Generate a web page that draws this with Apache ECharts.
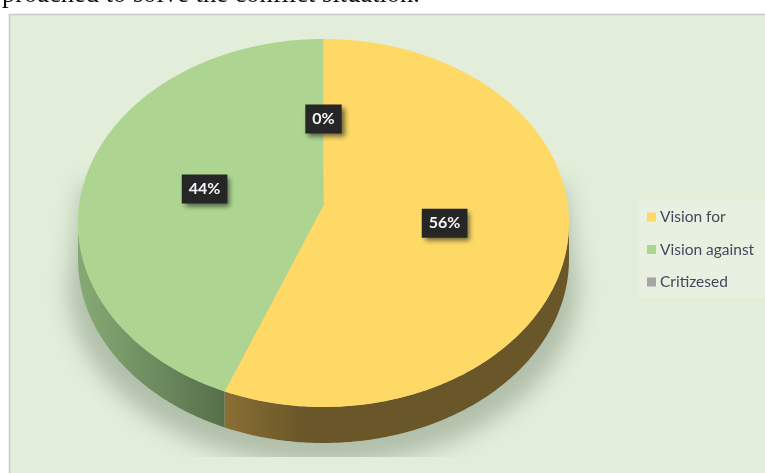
<!DOCTYPE html>
<html>
<head>
<meta charset="utf-8">
<style>html,body{margin:0;padding:0;background:#fff;overflow:hidden}#chart{width:765px;height:473px}</style>
<script src="https://cdn.jsdelivr.net/npm/echarts@6/dist/echarts.min.js"></script>
</head>
<body>
<div id="chart"></div>
<script>
const categories = ['Vision for', 'Vision against', 'Critizesed'];
const shares = [56, 44, 0];
const topColors = ['#ffd966', '#add591', '#a5a5a5'];

// Tilted disc: ellipse of the top face, the apex offset caused by perspective, wall height.
const disc = { cx: 323.5, cy: 223, rx: 245.5, ry: 184, tilt: -0.098, depth: 36 };
const total = shares.reduce((a, b) => a + b, 0);

// Position on the top face for a clockwise angle (radians from 12 o'clock) and a radius 0..1.
function project(angle, r) {
  const u = r * Math.sin(angle), v = -r * Math.cos(angle), a = disc.tilt;
  const d = 1 + a * v;
  return [disc.cx + disc.rx * u * Math.sqrt(1 - a * a) / d, disc.cy + disc.ry * (v + a) / d];
}
function arc(from, to) {
  const pts = [], n = Math.max(2, Math.ceil((to - from) * 90));
  for (let i = 0; i <= n; i++) pts.push(project(from + (to - from) * i / n, 1));
  return pts;
}
function sliceRange(index) {
  const before = shares.slice(0, index).reduce((a, b) => a + b, 0);
  return [before / total * Math.PI * 2, (before + shares[index]) / total * Math.PI * 2];
}
const LG = echarts.graphic.LinearGradient;
const wallFills = [
  new LG(225, 0, 300, 0, [{ offset: 0, color: '#8a6f34' }, { offset: 1, color: '#6a5729' }], true),
  new LG(85, 0, 225, 0, [{ offset: 0, color: '#84a873' }, { offset: 1, color: '#566f4b' }], true),
  '#6a6a6a'
];

function renderSlice(index) {
  return function () {
    const [from, to] = sliceRange(index);
    const children = [];
    if (shares[index] > 0) {
      const rim = arc(from, to);
      const lower = rim.filter(p => p[1] >= disc.cy);
      const wall = lower.concat(lower.slice().reverse().map(p => [p[0], p[1] + disc.depth]));
      children.push({ type: 'polygon', z2: 1, shape: { points: wall }, style: { fill: wallFills[index] } });
      children.push({
        type: 'polygon', z2: 2,
        shape: { points: [project(0, 0)].concat(rim) },
        style: { fill: topColors[index] }
      });
    }
    const mid = project((from + to) / 2, 0.5);
    children.push({
      type: 'text', z2: 10, x: mid[0], y: mid[1] + 1,
      style: {
        text: shares[index] + '%', align: 'center', verticalAlign: 'middle',
        font: 'bold 16px Lato, "Open Sans", sans-serif', fill: '#f4f6fb',
        backgroundColor: '#262626', padding: [7, 7, 6, 7],
        shadowBlur: 5, shadowColor: 'rgba(30,40,30,0.65)', shadowOffsetX: 3, shadowOffsetY: 3
      }
    });
    return { type: 'group', children };
  };
}

// Soft cast shadow under the disc. Only the blur is painted: the outline sits off the canvas
// and its shadow is shifted back in, then cut off at the floor line.
const SHADOW_SHIFT = 2000;
function renderShadow() {
  const pts = [[disc.cx - disc.rx + 4, 185]];
  for (let i = 0; i <= 90; i++) {
    const t = Math.PI * i / 90;
    pts.push([disc.cx - 255 * Math.cos(t), 285 + 180 * Math.sin(t)]);
  }
  pts.push([disc.cx + disc.rx - 4, 185]);
  return {
    type: 'polygon',
    x: -SHADOW_SHIFT,
    shape: { points: pts },
    style: { fill: '#b1bfab', shadowBlur: 22, shadowColor: '#b1bfab', shadowOffsetX: SHADOW_SHIFT },
    clipPath: { type: 'rect', x: SHADOW_SHIFT, shape: { x: 0, y: 0, width: 765, height: 457 } }
  };
}

const chart = echarts.init(document.getElementById('chart'), null, { renderer: 'canvas' });
chart.setOption({
  animation: false,
  backgroundColor: '#fff',
  graphic: [
    { type: 'rect', z: -10, shape: { x: 9.5, y: 14.5, width: 760, height: 465 },
      style: { fill: '#e2eed9', stroke: '#c9c9c9', lineWidth: 1.5 } },
    { type: 'text', z: -10, x: 2, y: -18,
      style: { text: 'proached to solve the conflict situation.', font: '26.5px "Liberation Serif", serif', fill: '#111' } }
  ],
  legend: {
    orient: 'vertical', left: 638, top: 200, padding: [9, 14, 7, 9],
    itemWidth: 9, itemHeight: 9, itemGap: 16.5, icon: 'rect',
    backgroundColor: '#e8f0e2',
    selectedMode: false,
    data: categories,
    textStyle: { fontFamily: 'Lato, "Open Sans", sans-serif', fontSize: 15.5, color: '#46465a', padding: [0, 0, 0, -1] }
  },
  series: [
    { type: 'custom', name: '', coordinateSystem: 'none', silent: true, z: 1, data: [[0]], renderItem: renderShadow }
  ].concat(categories.map((name, i) => ({
    type: 'custom', name, coordinateSystem: 'none', silent: true, z: 2,
    itemStyle: { color: topColors[i] },
    data: [[shares[i]]],
    renderItem: renderSlice(i)
  })))
});
</script>
</body>
</html>
